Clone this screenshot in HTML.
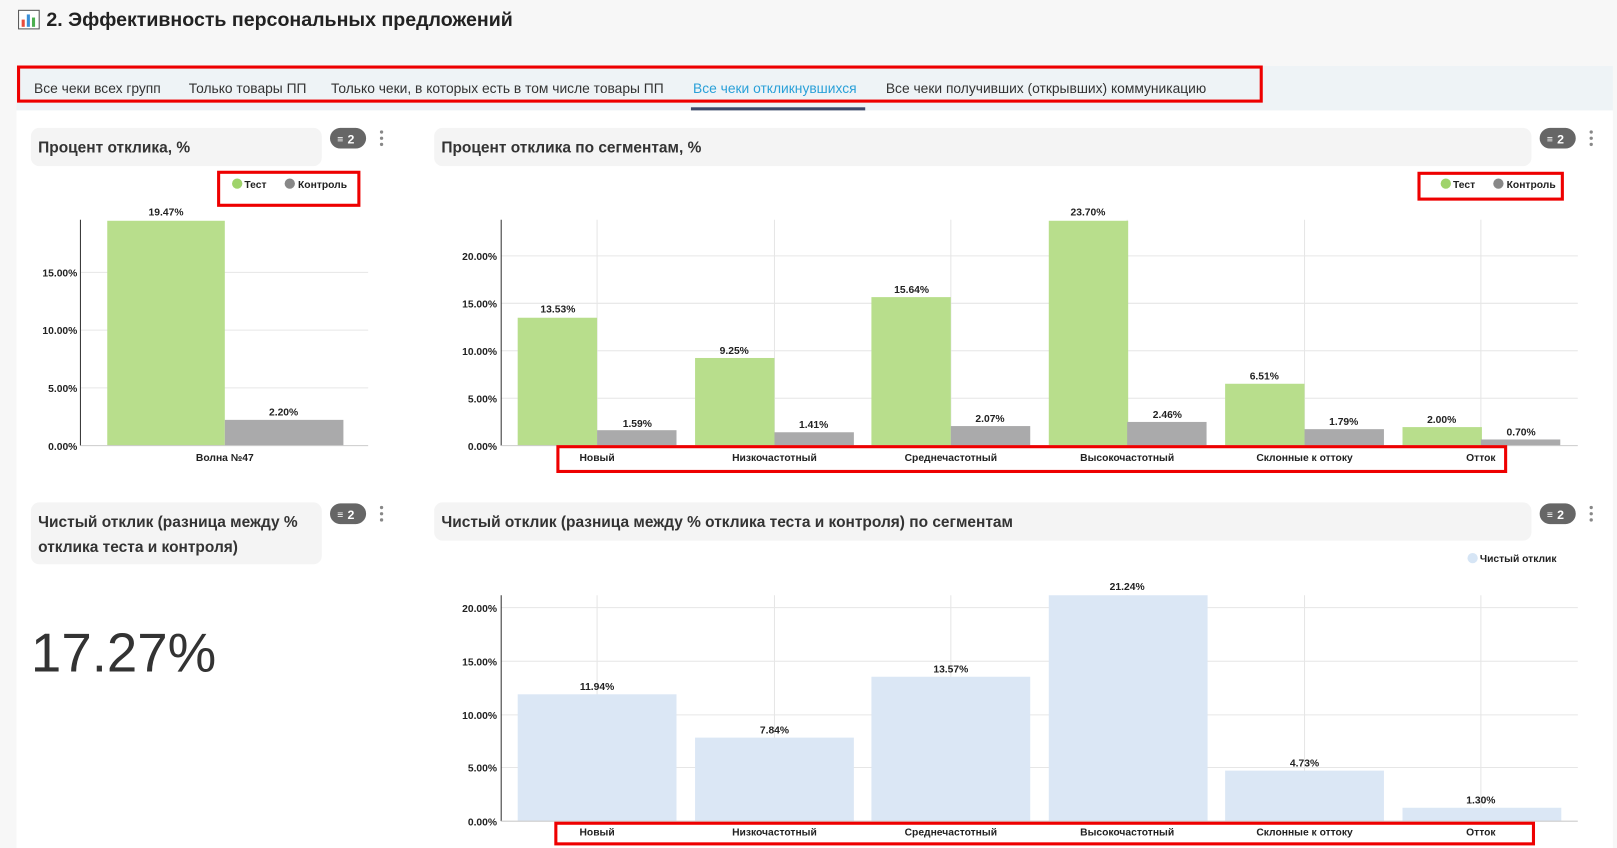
<!DOCTYPE html>
<html><head><meta charset="utf-8"><style>
html,body{margin:0;padding:0;background:#f7f7f7;}
svg{display:block;font-family:"Liberation Sans","DejaVu Sans",sans-serif;}
</style></head><body>
<svg width="1617" height="848" viewBox="0 0 1568 822" preserveAspectRatio="none" xmlns="http://www.w3.org/2000/svg">
<rect width="1568" height="822" fill="#f7f7f7"/>
<rect x="16" y="107" width="1548" height="715" fill="#ffffff"/>
<!-- title -->
<rect x="18" y="10" width="20" height="18" fill="#fff" stroke="#555" stroke-width="1"/>
<rect x="21" y="19" width="3" height="7" fill="#e84b3c"/><rect x="26" y="14" width="3" height="12" fill="#3a8fd8"/><rect x="31" y="17" width="3" height="9" fill="#4caf50"/>
<text x="45" y="25" font-size="19" font-weight="bold" fill="#222">2. Эффективность персональных предложений</text>
<!-- tabs -->
<rect x="16" y="64" width="1548" height="43" fill="#eef3f6"/>
<g font-size="13.4" fill="#333">
<text x="33" y="90">Все чеки всех групп</text>
<text x="183" y="90">Только товары ПП</text>
<text x="321" y="90">Только чеки, в которых есть в том числе товары ПП</text>
<text x="672" y="90" fill="#2aa0d8">Все чеки откликнувшихся</text>
<text x="859" y="90">Все чеки получивших (открывших) коммуникацию</text>
</g>
<rect x="670" y="104" width="169" height="3" fill="#3d4a6b"/>
<rect x="18" y="65" width="1205" height="33" fill="none" stroke="#ee0000" stroke-width="3"/>

<!-- card headers -->
<rect x="30" y="124" width="282" height="37" rx="8" fill="#f4f4f4"/>
<text x="37" y="148" font-size="15" font-weight="bold" fill="#333">Процент отклика, %</text>
<rect x="421" y="124" width="1064" height="37" rx="8" fill="#f4f4f4"/>
<text x="428" y="148" font-size="15" font-weight="bold" fill="#333">Процент отклика по сегментам, %</text>
<rect x="30" y="487" width="282" height="60" rx="8" fill="#f4f4f4"/>
<text x="37" y="511" font-size="15" font-weight="bold" fill="#333">Чистый отклик (разница между %</text>
<text x="37" y="535" font-size="15" font-weight="bold" fill="#333">отклика теста и контроля)</text>
<rect x="421" y="487" width="1064" height="37" rx="8" fill="#f4f4f4"/>
<text x="428" y="511" font-size="15" font-weight="bold" fill="#333">Чистый отклик (разница между % отклика теста и контроля) по сегментам</text>
<!-- badges -->
<g font-size="12" font-weight="bold" fill="#fff">
<rect x="320" y="124" width="35" height="20" rx="10" fill="#666"/><text x="337" y="139">2</text><text x="327" y="138" font-size="10">≡</text>
<rect x="1493" y="124" width="35" height="20" rx="10" fill="#666"/><text x="1510" y="139">2</text><text x="1500" y="138" font-size="10">≡</text>
<rect x="320" y="488" width="35" height="20" rx="10" fill="#666"/><text x="337" y="503">2</text><text x="327" y="502" font-size="10">≡</text>
<rect x="1493" y="488" width="35" height="20" rx="10" fill="#666"/><text x="1510" y="503">2</text><text x="1500" y="502" font-size="10">≡</text>
</g>
<g fill="#888">
<circle cx="370" cy="128" r="1.6"/><circle cx="370" cy="134" r="1.6"/><circle cx="370" cy="140" r="1.6"/>
<circle cx="1543" cy="128" r="1.6"/><circle cx="1543" cy="134" r="1.6"/><circle cx="1543" cy="140" r="1.6"/>
<circle cx="370" cy="492" r="1.6"/><circle cx="370" cy="498" r="1.6"/><circle cx="370" cy="504" r="1.6"/>
<circle cx="1543" cy="492" r="1.6"/><circle cx="1543" cy="498" r="1.6"/><circle cx="1543" cy="504" r="1.6"/>
</g>

<g font-weight="bold">
<!-- left chart -->
<g font-size="10" fill="#222">
<circle cx="230" cy="178" r="5" fill="#9fd36b"/><text x="237" y="182">Тест</text>
<circle cx="281" cy="178" r="5" fill="#888"/><text x="289" y="182">Контроль</text>
</g>
<rect x="212" y="167" width="136" height="32" fill="none" stroke="#ee0000" stroke-width="3"/>
<g stroke="#e6e6e6"><line x1="78" y1="264" x2="357" y2="264"/><line x1="78" y1="320" x2="357" y2="320"/><line x1="78" y1="376" x2="357" y2="376"/></g>
<rect x="104" y="214" width="114" height="218" fill="#b8de8c"/>
<rect x="218" y="407" width="115" height="25" fill="#aaaaab"/>
<line x1="78" y1="213" x2="78" y2="432" stroke="#333"/><line x1="78" y1="432" x2="357" y2="432" stroke="#ccc"/>
<g font-size="10" fill="#222" text-anchor="end">
<text x="75" y="436">0.00%</text><text x="75" y="380">5.00%</text><text x="75" y="324">10.00%</text><text x="75" y="268">15.00%</text>
</g>
<g font-size="10" fill="#222" text-anchor="middle">
<text x="161" y="209">19.47%</text><text x="275" y="403">2.20%</text><text x="218" y="447">Волна №47</text>
</g>

<!-- right chart 1 -->
<g font-size="10" fill="#222">
<circle cx="1402" cy="178" r="5" fill="#9fd36b"/><text x="1409" y="182">Тест</text>
<circle cx="1453" cy="178" r="5" fill="#888"/><text x="1461" y="182">Контроль</text>
</g>
<rect x="1376" y="168" width="139" height="25" fill="none" stroke="#ee0000" stroke-width="3"/>
<g stroke="#e6e6e6">
<line x1="486" y1="248" x2="1530" y2="248"/><line x1="486" y1="294" x2="1530" y2="294"/><line x1="486" y1="340" x2="1530" y2="340"/><line x1="486" y1="386" x2="1530" y2="386"/>
<line x1="579" y1="213" x2="579" y2="432"/><line x1="751" y1="213" x2="751" y2="432"/><line x1="922" y1="213" x2="922" y2="432"/><line x1="1093" y1="213" x2="1093" y2="432"/><line x1="1265" y1="213" x2="1265" y2="432"/><line x1="1436" y1="213" x2="1436" y2="432"/>
</g>
<g fill="#b8de8c">
<rect x="502" y="308" width="77" height="124"/><rect x="674" y="347" width="77" height="85"/><rect x="845" y="288" width="77" height="144"/><rect x="1017" y="214" width="77" height="218"/><rect x="1188" y="372" width="77" height="60"/><rect x="1360" y="414" width="77" height="18"/>
</g>
<g fill="#aaaaab">
<rect x="579" y="417" width="77" height="15"/><rect x="751" y="419" width="77" height="13"/><rect x="922" y="413" width="77" height="19"/><rect x="1093" y="409" width="77" height="23"/><rect x="1265" y="416" width="77" height="16"/><rect x="1436" y="426" width="77" height="6"/>
</g>
<line x1="486" y1="213" x2="486" y2="432" stroke="#333"/><line x1="486" y1="432" x2="1530" y2="432" stroke="#ccc"/>
<g font-size="10" fill="#222" text-anchor="end">
<text x="482" y="436">0.00%</text><text x="482" y="390">5.00%</text><text x="482" y="344">10.00%</text><text x="482" y="298">15.00%</text><text x="482" y="252">20.00%</text>
</g>
<g font-size="10" fill="#222" text-anchor="middle">
<text x="541" y="303">13.53%</text><text x="712" y="343">9.25%</text><text x="884" y="284">15.64%</text><text x="1055" y="209">23.70%</text><text x="1226" y="368">6.51%</text><text x="1398" y="410">2.00%</text>
<text x="618" y="414">1.59%</text><text x="789" y="415">1.41%</text><text x="960" y="409">2.07%</text><text x="1132" y="405">2.46%</text><text x="1303" y="412">1.79%</text><text x="1475" y="422">0.70%</text>
<text x="579" y="447">Новый</text><text x="751" y="447">Низкочастотный</text><text x="922" y="447">Среднечастотный</text><text x="1093" y="447">Высокочастотный</text><text x="1265" y="447">Склонные к оттоку</text><text x="1436" y="447">Отток</text>
</g>
<rect x="541" y="433" width="919" height="24" fill="none" stroke="#ee0000" stroke-width="3"/>

<!-- right chart 2 -->
<circle cx="1428" cy="541" r="5" fill="#d6e5f5"/><text x="1435" y="545" font-size="10" fill="#222">Чистый отклик</text>
<g stroke="#e6e6e6">
<line x1="486" y1="589" x2="1530" y2="589"/><line x1="486" y1="641" x2="1530" y2="641"/><line x1="486" y1="693" x2="1530" y2="693"/><line x1="486" y1="744" x2="1530" y2="744"/>
<line x1="579" y1="577" x2="579" y2="796"/><line x1="751" y1="577" x2="751" y2="796"/><line x1="922" y1="577" x2="922" y2="796"/><line x1="1093" y1="577" x2="1093" y2="796"/><line x1="1265" y1="577" x2="1265" y2="796"/><line x1="1436" y1="577" x2="1436" y2="796"/>
</g>
<g fill="#dbe7f5">
<rect x="502" y="673" width="154" height="123"/><rect x="674" y="715" width="154" height="81"/><rect x="845" y="656" width="154" height="140"/><rect x="1017" y="577" width="154" height="219"/><rect x="1188" y="747" width="154" height="49"/><rect x="1360" y="783" width="154" height="13"/>
</g>
<line x1="486" y1="577" x2="486" y2="796" stroke="#333"/><line x1="486" y1="796" x2="1530" y2="796" stroke="#ccc"/>
<g font-size="10" fill="#222" text-anchor="end">
<text x="482" y="800">0.00%</text><text x="482" y="748">5.00%</text><text x="482" y="697">10.00%</text><text x="482" y="645">15.00%</text><text x="482" y="593">20.00%</text>
</g>
<g font-size="10" fill="#222" text-anchor="middle">
<text x="579" y="669">11.94%</text><text x="751" y="711">7.84%</text><text x="922" y="652">13.57%</text><text x="1093" y="572">21.24%</text><text x="1265" y="743">4.73%</text><text x="1436" y="779">1.30%</text>
<text x="579" y="810">Новый</text><text x="751" y="810">Низкочастотный</text><text x="922" y="810">Среднечастотный</text><text x="1093" y="810">Высокочастотный</text><text x="1265" y="810">Склонные к оттоку</text><text x="1436" y="810">Отток</text>
</g>
<rect x="539" y="798" width="948" height="20" fill="none" stroke="#ee0000" stroke-width="3"/>
</g>

<!-- big number -->
<text x="30" y="651" font-size="53" fill="#333">17.27%</text>
</svg>
</body></html>
